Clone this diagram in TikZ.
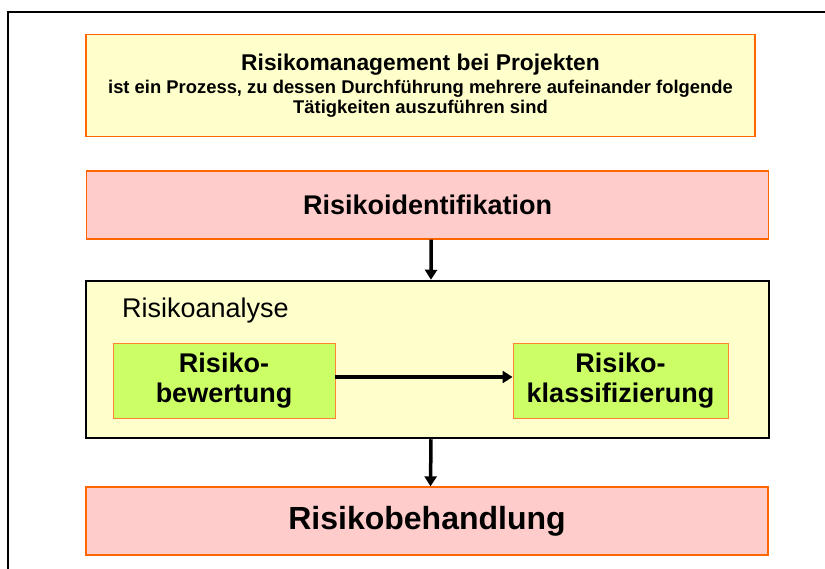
\documentclass[tikz,border=0pt]{standalone}
\usepackage{fontspec}
\setmainfont{Liberation Sans}
\usepackage{xcolor}
\usetikzlibrary{arrows.meta,positioning}
\definecolor{riskYellow}{HTML}{FFFFCC}
\definecolor{riskPink}{HTML}{FFCCCC}
\definecolor{riskGreen}{HTML}{CCFF66}
\definecolor{riskOrange}{HTML}{FF6600}

\begin{document}
\begin{tikzpicture}[x=1pt,y=-1pt,
    orangebox/.style={draw=riskOrange, line width=1.3pt, inner sep=0pt, align=center},
    greenbox/.style={draw=riskOrange!80, line width=0.9pt, fill=riskGreen, inner sep=0pt, align=center,
        minimum height=75pt, font=\bfseries\fontsize{27}{30}\selectfont},
    arr/.style={-{Triangle[length=10pt,width=12pt]}, line width=3.5pt}]
    \useasboundingbox (0,0) rectangle (825,569);

    % outer frame
    \draw[line width=2pt] (8,569) -- (8,12) -- (825,12);

    % intro box
    \node[orangebox, fill=riskYellow, minimum width=669pt, minimum height=102pt,
        font=\bfseries\fontsize{18.4}{20.5}\selectfont] (intro) at (420.5,85.5)
        {{\fontsize{22.8}{23}\selectfont Risikomanagement bei Projekten}\\[2.5pt]
         ist ein Prozess, zu dessen Durchführung mehrere aufeinander folgende\\
         Tätigkeiten auszuführen sind};

    % identification
    \node[orangebox, fill=riskPink, minimum width=682pt, minimum height=68pt,
        font=\bfseries\fontsize{27}{30}\selectfont] (ident) at (427.7,205) {Risikoidentifikation};

    % analysis frame
    \node[draw, line width=2.5pt, fill=riskYellow, minimum width=683pt, minimum height=157pt] (analyse) at (427.5,359.5) {};
    \node[anchor=base west, inner sep=0pt, font=\fontsize{27}{30}\selectfont] (analyselabel) at (122,318) {Risikoanalyse};

    \node[greenbox, minimum width=222pt] (bewert) at (224,380.5) {Risiko-\\bewertung};
    \node[greenbox, minimum width=215pt] (klass) at (620.5,380.5) {Risiko-\\klassifizierung};

    % treatment
    \node[orangebox, fill=riskPink, minimum width=682pt, minimum height=68pt,
        font=\bfseries\fontsize{32}{36}\selectfont] (behand) at (427,521) {Risikobehandlung};

    % arrows
    \draw[arr] ([xshift=3.5pt]ident.south) -- ([xshift=3.5pt]analyse.north);
    \draw[arr] ([yshift=3.5pt]bewert.east) -- ([yshift=3.5pt]klass.west);
    \draw[arr] ([xshift=3.5pt]analyse.south) -- ([xshift=3.5pt]behand.north);
\end{tikzpicture}
\end{document}
